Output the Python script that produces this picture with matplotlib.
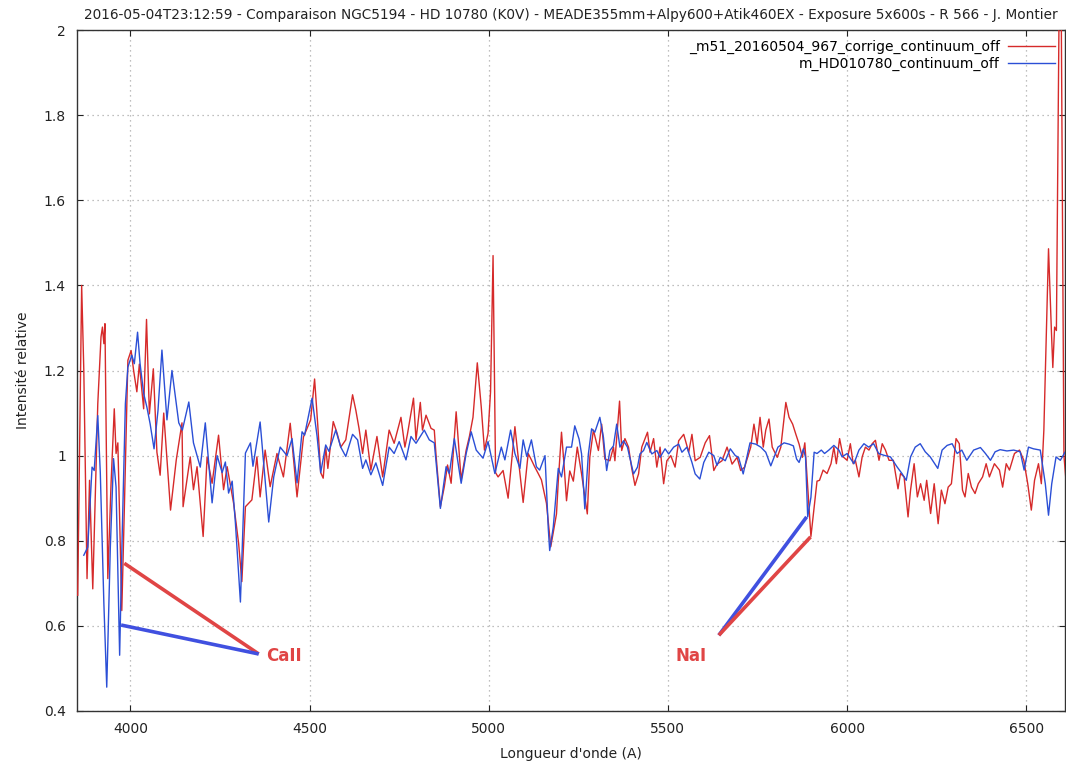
import matplotlib
matplotlib.use("Agg")
import matplotlib.pyplot as plt

# ---------------- data ----------------
red_x = [3853, 3864, 3870, 3879, 3886, 3895, 3909, 3918, 3922, 3926, 3929, 3937, 3946, 3955, 3960, 3965,
         3976, 3983, 3993, 4002, 4009, 4018, 4025, 4037, 4045, 4053, 4064, 4074, 4083, 4093, 4112, 4128,
         4144, 4147, 4167, 4176, 4186, 4203, 4214, 4228, 4246, 4260, 4270, 4288, 4302, 4311, 4321, 4339,
         4353, 4362, 4376, 4390, 4409, 4427, 4446, 4465, 4483, 4503, 4514, 4523, 4531, 4538, 4545, 4551,
         4566, 4577, 4587, 4601, 4620, 4629, 4638, 4648, 4657, 4671, 4688, 4704, 4722, 4736, 4755, 4766,
         4773, 4790, 4797, 4809, 4815, 4825, 4839, 4848, 4853, 4865, 4876, 4885, 4895, 4909, 4923, 4937,
         4946, 4956, 4968, 4979, 4988, 4998, 5005, 5012, 5019, 5026, 5040, 5054, 5073, 5087, 5096, 5110,
         5119, 5128, 5138, 5147, 5161, 5173, 5189, 5194, 5203, 5210, 5217, 5226, 5236, 5247, 5259, 5275,
         5282, 5292, 5306, 5315, 5324, 5338, 5348, 5352, 5365, 5371, 5380, 5390, 5399, 5408, 5418, 5427,
         5443, 5450, 5460, 5469, 5478, 5488, 5497, 5508, 5520, 5530, 5544, 5558, 5567, 5576, 5590, 5604,
         5616, 5628, 5637, 5651, 5665, 5679, 5693, 5703, 5714, 5731, 5740, 5749, 5757, 5766, 5773, 5782,
         5791, 5805, 5815, 5829, 5838, 5848, 5857, 5866, 5875, 5882, 5889, 5899, 5906, 5916, 5923, 5933,
         5944, 5955, 5963, 5970, 5979, 5989, 6000, 6009, 6017, 6023, 6033, 6042, 6051, 6061, 6070, 6079,
         6089, 6098, 6107, 6117, 6129, 6142, 6149, 6159, 6170, 6177, 6187, 6196, 6205, 6215, 6222, 6233,
         6243, 6254, 6263, 6273, 6282, 6291, 6304, 6313, 6322, 6329, 6338, 6347, 6357, 6366, 6378, 6388,
         6397, 6411, 6425, 6434, 6444, 6453, 6467, 6481, 6493, 6504, 6514, 6523, 6534, 6542, 6549, 6556,
         6562, 6570, 6574, 6579, 6584, 6595, 6605, 6612]
red_y = [0.672, 1.40, 1.20, 0.711, 0.942, 0.687, 1.122, 1.279, 1.302, 1.263, 1.31, 0.711, 0.934, 1.11, 1.005, 1.03,
         0.636, 0.871, 1.224, 1.247, 1.20, 1.15, 1.215, 1.11, 1.32, 1.098, 1.204, 1.008, 0.954, 1.10, 0.872, 0.99,
         1.077, 0.88, 0.997, 0.92, 0.974, 0.81, 0.997, 0.935, 1.048, 0.92, 0.974, 0.888, 0.794, 0.704, 0.88, 0.896,
         0.997, 0.903, 1.013, 0.927, 1.005, 0.95, 1.076, 0.903, 1.044, 1.084, 1.18, 1.07, 0.96, 0.947, 1.02, 0.97,
         1.08, 1.052, 1.02, 1.037, 1.143, 1.107, 1.064, 1.005, 1.06, 0.966, 1.045, 0.95, 1.06, 1.029, 1.09, 1.02,
         1.05, 1.135, 1.037, 1.125, 1.06, 1.095, 1.064, 1.06, 1.0, 0.88, 0.927, 0.978, 0.935, 1.103, 0.943, 1.013,
         1.045, 1.09, 1.218, 1.115, 1.013, 1.052, 1.15, 1.47, 0.96, 0.95, 0.965, 0.9, 1.068, 0.958, 0.89, 1.005,
         0.99, 0.974, 0.958, 0.943, 0.888, 0.786, 0.863, 0.94, 1.055, 0.98, 0.894, 0.964, 0.94, 1.02, 0.957, 0.863,
         0.996, 1.06, 1.012, 1.074, 0.992, 0.988, 1.02, 0.988, 1.128, 1.012, 1.04, 1.02, 0.97, 0.93, 0.957, 1.02,
         1.055, 1.008, 1.04, 0.973, 1.02, 0.934, 0.988, 1.0, 0.973, 1.035, 1.05, 1.008, 1.05, 0.988, 0.996, 1.03,
         1.047, 0.965, 0.98, 0.988, 1.02, 0.98, 0.996, 0.965, 0.973, 1.02, 1.074, 1.027, 1.09, 1.02, 1.06, 1.086,
         1.02, 0.996, 1.02, 1.125, 1.09, 1.074, 1.05, 1.027, 0.996, 1.03, 0.94, 0.81, 0.864, 0.94, 0.942, 0.966,
         0.958, 0.981, 1.02, 0.981, 1.04, 0.997, 0.989, 1.028, 0.981, 0.989, 0.95, 0.997, 1.02, 1.013, 1.028, 1.036,
         0.989, 1.028, 1.013, 0.989, 0.989, 0.922, 0.958, 0.95, 0.856, 0.919, 0.981, 0.903, 0.934, 0.895, 0.942, 0.864,
         0.934, 0.84, 0.919, 0.887, 0.926, 0.934, 1.04, 1.028, 0.919, 0.903, 0.958, 0.926, 0.911, 0.934, 0.95, 0.981,
         0.95, 0.981, 0.966, 0.926, 0.981, 0.966, 1.005, 1.013, 0.989, 0.934, 0.872, 0.942, 0.981, 0.934, 1.06, 1.294,
         1.486, 1.294, 1.207, 1.302, 1.294, 2.4, 1.0, 0.93]

blue_x = [3870, 3881, 3893, 3899, 3909, 3916, 3926, 3934, 3944, 3953, 3960, 3970, 3977, 3986, 3993, 4004,
          4011, 4020, 4027, 4037, 4046, 4055, 4066, 4077, 4088, 4102, 4116, 4135, 4145, 4163, 4176, 4195,
          4209, 4228, 4242, 4256, 4265, 4274, 4284, 4293, 4307, 4321, 4335, 4342, 4362, 4386, 4400, 4418,
          4437, 4451, 4465, 4479, 4486, 4507, 4521, 4531, 4545, 4554, 4573, 4587, 4601, 4620, 4634, 4648,
          4657, 4671, 4685, 4704, 4722, 4736, 4750, 4769, 4783, 4797, 4820, 4834, 4848, 4865, 4881, 4890,
          4904, 4923, 4937, 4951, 4965, 4984, 4998, 5017, 5035, 5045, 5061, 5073, 5087, 5096, 5106, 5119,
          5133, 5142, 5157, 5166, 5170, 5180, 5194, 5203, 5217, 5231, 5240, 5252, 5259, 5268, 5278, 5287,
          5296, 5310, 5320, 5329, 5338, 5348, 5357, 5366, 5376, 5387, 5404, 5415, 5422, 5432, 5441, 5455,
          5469, 5478, 5492, 5502, 5516, 5530, 5539, 5553, 5567, 5576, 5589, 5600, 5614, 5628, 5637, 5646,
          5660, 5674, 5688, 5697, 5710, 5716, 5729, 5745, 5759, 5773, 5787, 5796, 5807, 5824, 5838, 5850,
          5859, 5866, 5878, 5884, 5890, 5899, 5908, 5916, 5928, 5937, 5949, 5963, 5977, 5986, 6000, 6019,
          6033, 6047, 6060, 6074, 6088, 6102, 6121, 6139, 6153, 6165, 6177, 6190, 6204, 6218, 6232, 6253,
          6265, 6279, 6293, 6307, 6320, 6334, 6353, 6372, 6386, 6400, 6413, 6427, 6446, 6465, 6483, 6494,
          6506, 6520, 6539, 6553, 6562, 6571, 6583, 6595, 6608]
blue_y = [0.766, 0.785, 0.973, 0.965, 1.094, 0.96, 0.652, 0.456, 0.785, 0.993, 0.926, 0.531, 0.81, 1.122, 1.208, 1.236,
          1.216, 1.29, 1.216, 1.146, 1.114, 1.075, 1.016, 1.106, 1.248, 1.084, 1.20, 1.077, 1.06, 1.126, 1.03, 0.973,
          1.077, 0.889, 1.0, 0.96, 0.985, 0.912, 0.94, 0.842, 0.656, 1.006, 1.03, 0.975, 1.079, 0.844, 0.95, 1.02,
          1.0, 1.04, 0.936, 1.056, 1.048, 1.135, 1.045, 0.96, 1.025, 1.01, 1.06, 1.02, 0.998, 1.05, 1.037, 0.97,
          0.99, 0.955, 0.983, 0.93, 1.02, 1.005, 1.033, 0.99, 1.045, 1.029, 1.06, 1.037, 1.03, 0.876, 0.974, 0.958,
          1.04, 0.935, 1.005, 1.056, 1.013, 0.994, 1.033, 0.958, 1.02, 0.99, 1.06, 1.005, 0.97, 1.037, 0.998, 1.037,
          0.974, 0.966, 1.0, 0.83, 0.777, 0.832, 0.97, 0.95, 1.02, 1.02, 1.07, 1.039, 1.004, 0.875, 1.004, 1.063,
          1.055, 1.09, 1.043, 0.965, 1.012, 1.023, 1.074, 1.02, 1.035, 1.02, 0.957, 0.973, 1.004, 1.012, 1.031, 1.004,
          1.012, 0.996, 1.016, 1.004, 1.02, 1.027, 1.008, 1.02, 0.984, 0.957, 0.945, 0.984, 1.008, 1.0, 0.977, 0.996,
          0.988, 1.016, 1.0, 0.996, 0.957, 0.98, 1.03, 1.027, 1.02, 1.008, 0.976, 0.996, 1.02, 1.03, 1.027, 1.023,
          0.992, 0.984, 1.016, 0.996, 0.856, 0.902, 1.008, 1.005, 1.013, 1.005, 1.013, 1.024, 1.013, 0.997, 1.005, 0.981,
          1.013, 1.028, 1.02, 1.028, 1.005, 1.001, 0.997, 0.974, 0.958, 0.942, 0.997, 1.02, 1.028, 1.009, 0.997, 0.97,
          1.013, 1.024, 1.028, 1.005, 1.013, 0.989, 1.013, 1.019, 1.005, 0.989, 1.009, 1.014, 1.011, 1.013, 1.009, 0.966,
          1.02, 1.016, 1.013, 0.934, 0.86, 0.934, 0.997, 0.989, 1.008]

red_label = "_m51_20160504_967_corrige_continuum_off"
blue_label = "m_HD010780_continuum_off"
title = ("2016-05-04T23:12:59 - Comparaison NGC5194 - HD 10780 (K0V) - MEADE355mm+Alpy600+Atik460EX"
         " - Exposure 5x600s - R 566 - J. Montier")
x_ticks = [4000, 4500, 5000, 5500, 6000, 6500]
y_ticks = [0.4, 0.6, 0.8, 1.0, 1.2, 1.4, 1.6, 1.8, 2.0]
y_tick_labels = ["0.4", "0.6", "0.8", "1", "1.2", "1.4", "1.6", "1.8", "2"]

# annotation lines: (x0, y0, x1, y1)
ca_red = [3983, 0.747, 4358, 0.534]
ca_blue = [3974, 0.602, 4358, 0.534]
na_blue = [5887, 0.856, 5642, 0.578]
na_red = [5898, 0.809, 5642, 0.578]
ca_text = (4378, 0.530, "CaII")
na_text = (5520, 0.530, "NaI")

# ---------------- figure ----------------
plt.rcParams['font.family'] = ['DejaVu Sans']
fig = plt.figure(figsize=(10.66, 7.62), dpi=100)
ax = fig.add_axes([77 / 1066, 1 - 711 / 762, (1065 - 77) / 1066, (711 - 30) / 762])

RED = "#d62a2a"
BLUE = "#2b4fd6"
l_red, = ax.plot(red_x, red_y, color=RED, lw=1.0, zorder=3)
l_blue, = ax.plot(blue_x, blue_y, color=BLUE, lw=1.0, zorder=3)

ANN_RED = "#e04545"
ANN_BLUE = "#4050e0"
ax.plot(ca_red[0::2], ca_red[1::2], color=ANN_RED, lw=2.6, solid_capstyle='butt', zorder=4)
ax.plot(ca_blue[0::2], ca_blue[1::2], color=ANN_BLUE, lw=2.6, solid_capstyle='butt', zorder=4)
ax.plot(na_blue[0::2], na_blue[1::2], color=ANN_BLUE, lw=2.6, solid_capstyle='butt', zorder=4)
ax.plot(na_red[0::2], na_red[1::2], color=ANN_RED, lw=2.6, solid_capstyle='butt', zorder=4)
ax.text(ca_text[0], ca_text[1], ca_text[2], color=ANN_RED, fontsize=12, fontweight='bold',
        ha='left', va='center', zorder=5)
ax.text(na_text[0], na_text[1], na_text[2], color=ANN_RED, fontsize=12, fontweight='bold',
        ha='left', va='center', zorder=5)

ax.set_xlim(3851, 6608)
ax.set_ylim(0.4, 2.0)
ax.set_xticks(x_ticks)
ax.set_xticklabels([str(t) for t in x_ticks])
ax.set_yticks(y_ticks)
ax.set_yticklabels(y_tick_labels)
ax.tick_params(direction='in', top=True, right=True, length=4, width=0.8,
               labelsize=10, pad=8, colors='#222222')
ax.grid(True, color='#aaaaaa', linestyle=(0, (1, 3)), linewidth=0.9)
for s in ax.spines.values():
    s.set_color('#333333')
    s.set_linewidth(1.0)

ax.set_xlabel("Longueur d'onde (A)", fontsize=10, labelpad=8, color='#222222')
ax.set_ylabel("Intensité relative", fontsize=10, labelpad=10, color='#222222')
ax.set_title(title, fontsize=9.8, pad=8, color='#222222')

leg = ax.legend([l_red, l_blue], [red_label, blue_label], loc='upper right', frameon=False,
                markerfirst=False, fontsize=10, handlelength=3.4, handletextpad=0.6,
                labelspacing=0.2, borderaxespad=0.5, borderpad=0.2)

fig.savefig("out.png", dpi=100)
